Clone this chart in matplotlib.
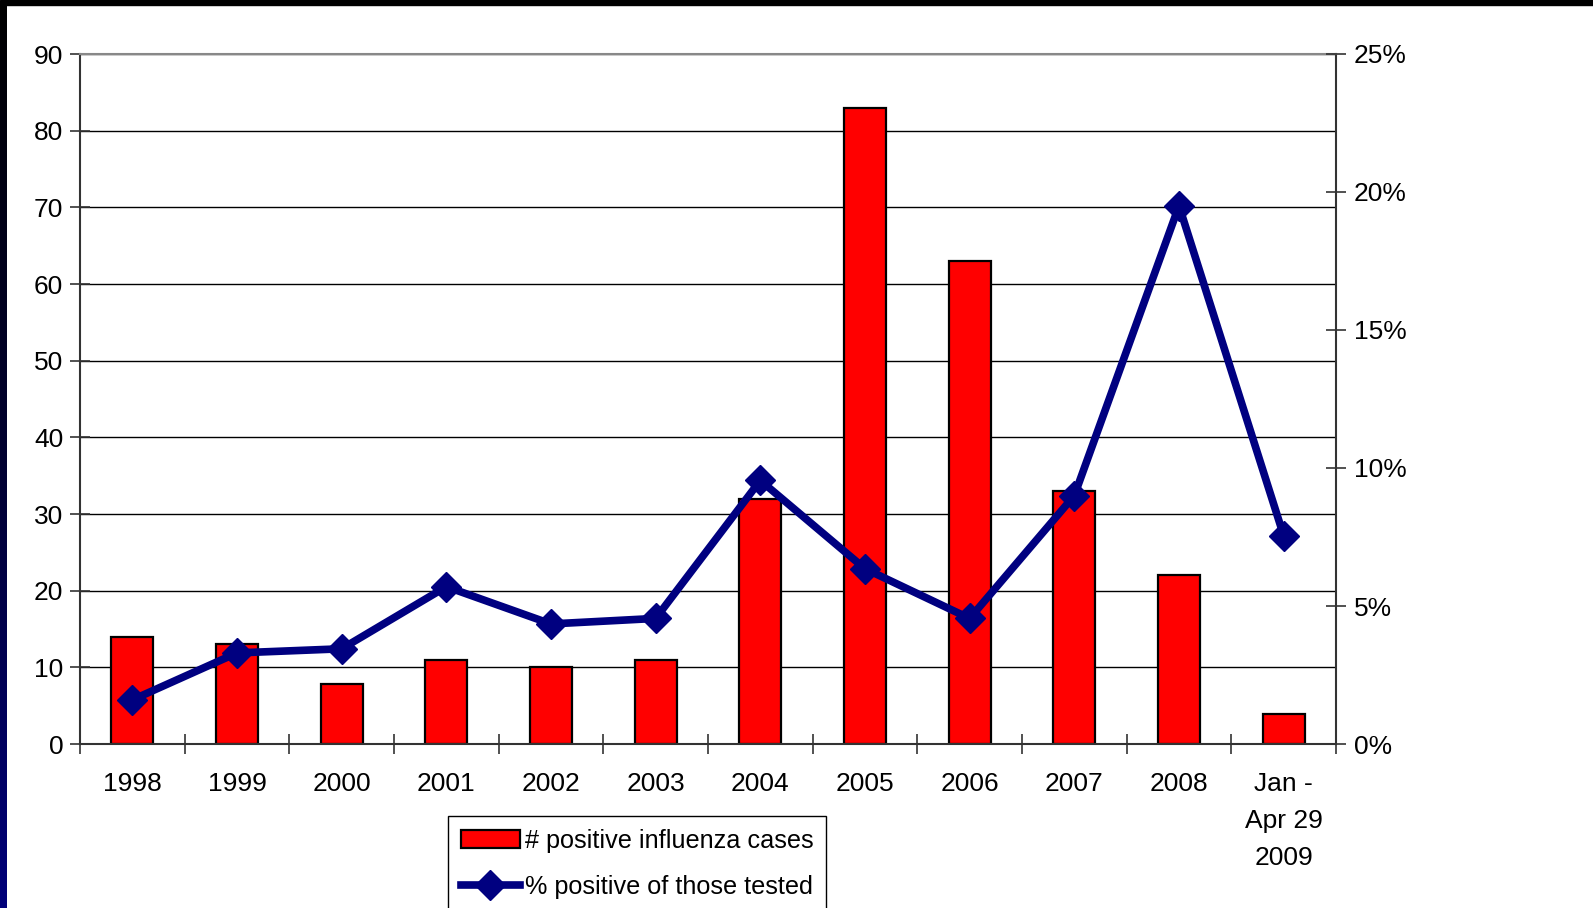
import matplotlib
matplotlib.use("Agg")
from matplotlib import pyplot as plt
import numpy as np

plt.rcParams['font.family'] = ['Liberation Sans', 'DejaVu Sans']

years = ["1998", "1999", "2000", "2001", "2002", "2003", "2004", "2005",
         "2006", "2007", "2008", "Jan -\nApr 29\n2009"]
cases = [14, 13, 7.8, 11, 10, 11, 32, 83, 63, 33, 22, 3.9]
pct_positive = [1.6, 3.3, 3.45, 5.7, 4.35, 4.55, 9.55, 6.35, 4.55, 9.0, 19.5, 7.55]

W, H = 1593, 908
fig = plt.figure(figsize=(W / 100, H / 100), dpi=100)
fig.patch.set_facecolor("white")

# black band on top, dark gradient on the left edge (slide frame)
fig.patches.append(plt.Rectangle((0, 1 - 5 / H), 1, 5 / H, transform=fig.transFigure,
                                 color="black", zorder=0))
edge = fig.add_axes([0, 0, 7 / W, 1 - 5 / H])
grad = np.linspace(0, 1, 256).reshape(-1, 1)
edge.imshow(grad, aspect="auto", cmap=matplotlib.colors.LinearSegmentedColormap.from_list(
    "edge", ["#000000", "#000030", "#00007a"]), origin="upper")
edge.axis("off")

ax = fig.add_axes([80 / W, 1 - 744 / H, (1336 - 80) / W, (744 - 54) / H])
x = np.arange(len(years))

ax.bar(x, cases, width=0.4, color="#ff0000", edgecolor="black", linewidth=1.6,
       zorder=2, label="# positive influenza cases")
ax.set_xlim(-0.5, len(years) - 0.5)
ax.set_ylim(0, 90)
ax.set_yticks(range(0, 91, 10))
ax.yaxis.grid(True, color="black", linewidth=1.0, zorder=0)
ax.set_axisbelow(True)

ax.set_xticks(x)
ax.set_xticklabels(years, linespacing=1.68)
ax.set_xticks(np.arange(-0.5, len(years), 1.0), minor=True)
ax.tick_params(axis="x", which="major", length=0, pad=20, labelsize=19)
ax.tick_params(axis="x", which="minor", length=14, direction="inout", width=1.2, color="#333333")
ax.tick_params(axis="y", length=14, direction="inout", width=1.2, color="#333333",
               pad=5, labelsize=19)

for s in ["left", "bottom", "right"]:
    ax.spines[s].set_color("#333333")
    ax.spines[s].set_linewidth(1.5)
ax.spines["top"].set_color("#888888")
ax.spines["top"].set_linewidth(1.5)

ax2 = ax.twinx()
ax2.plot(x, pct_positive, color="#000080", linewidth=5.5, marker="D", markersize=15,
         markeredgecolor="#000080", zorder=3, label="% positive of those tested")
ax2.set_ylim(0, 25)
ax2.set_yticks(range(0, 26, 5))
ax2.set_yticklabels([f"{v}%" for v in range(0, 26, 5)])
ax2.tick_params(axis="y", length=14, direction="inout", width=1.2, color="#333333",
                pad=6, labelsize=19)
for s in ["left", "bottom", "right", "top"]:
    ax2.spines[s].set_visible(False)

h1, l1 = ax.get_legend_handles_labels()
h2, l2 = ax2.get_legend_handles_labels()
leg = fig.legend(h1 + h2, l1 + l2, loc="upper left",
                 bbox_to_anchor=(448 / W, 1 - 816 / H), fontsize=18.2,
                 frameon=True, fancybox=False, edgecolor="black", framealpha=1,
                 handlelength=2.35, handletextpad=0.2, labelspacing=0.88,
                 borderpad=0.5, borderaxespad=0, numpoints=1)
leg.get_frame().set_linewidth(1.0)

plt.savefig("out.png", dpi=100)
